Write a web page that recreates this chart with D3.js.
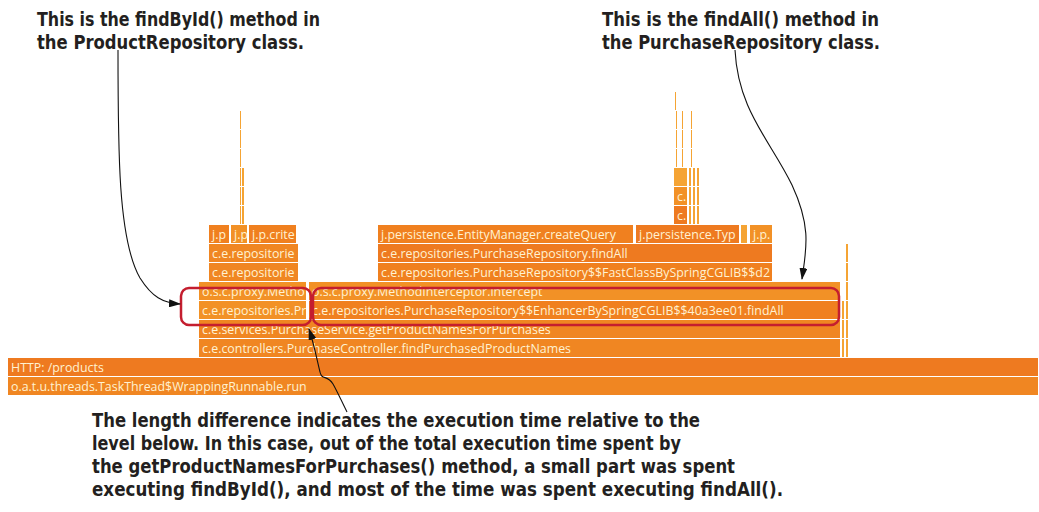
<!DOCTYPE html>
<html>
<head>
<meta charset="utf-8">
<script src="https://cdn.jsdelivr.net/npm/d3@7"></script>
<style>
body { margin: 0; background: #fff; }
svg { display: block; }
</style>
</head>
<body>
<svg id="chart" width="1039" height="512"></svg>
<script>
// flame graph frames (samples); an empty name = frame too thin to be labelled
var frameNames = [
	"o.a.t.u.threads.TaskThread$WrappingRunnable.run",
	"HTTP: /products",
	"c.e.controllers.PurchaseController.findPurchasedProductNames",
	"c.e.services.PurchaseService.getProductNamesForPurchases",
	"c.e.repositories.ProductRepository$$EnhancerBySpringCGLIB$$3f9c1a2b.findById",
	"c.e.repositories.PurchaseRepository$$EnhancerBySpringCGLIB$$40a3ee01.findAll",
	"o.s.c.proxy.MethodInterceptor.intercept",
	"o.s.c.proxy.MethodInterceptor.intercept",
	"c.e.repositories.ProductRepository$$FastClassBySpringCGLIB$$8d1e4c7a.invoke",
	"c.e.repositories.PurchaseRepository$$FastClassBySpringCGLIB$$d2b7e9f0.invoke",
	"c.e.repositories.ProductRepository.findById",
	"c.e.repositories.PurchaseRepository.findAll",
	"j.persistence.EntityManager.createQuery",
	"j.persistence.TypedQuery.getSingleResult",
	"j.p.criteria.CriteriaBuilder.createQuery",
	"j.persistence.EntityManager.createQuery",
	"j.persistence.TypedQuery.getResultList",
	"",
	"j.p.criteria.CriteriaQuery.select",
	"c.z.hikari.pool.HikariProxyConnection.prepareStatement",
	"c.z.hikari.pool.ProxyConnection.prepareStatement",
	"",
	"", "", "", "", "", "",
	"", "", "",
	"", "", "", "", "", "", "", "", "",
	"", "", "", "", "", "", "", "", "", "",
	"", "", "", "", "", "", "", "", ""
];
var frameDepths = [
	0, 1, 2, 3, 4, 4, 5, 5, 6, 6, 7, 7, 8, 8, 8, 8, 8, 8, 8,
	9, 10, 11,
	9, 10, 11, 12, 13, 14,
	9, 10, 11,
	9, 10, 11, 9, 10, 11, 9, 10, 11,
	12, 13, 14, 12, 13, 14, 12, 13, 14, 15,
	2, 3, 4, 2, 3, 4, 5, 6, 7
];
var frameStarts = [
	0, 0, 191, 191, 191, 301, 191, 301, 201, 370, 201, 370, 201, 223, 241, 370, 628, 733, 742,
	666, 666, 666,
	232, 232, 232, 232, 232, 232,
	234, 234, 234,
	681, 681, 681, 685, 685, 685, 689, 689, 689,
	668, 668, 668, 674, 674, 674, 683, 683, 683, 667,
	834, 834, 834, 838, 838, 838, 838, 838, 838
];
var frameWidths = [
	1031, 1031, 642, 642, 108, 532, 108, 532, 90, 395, 90, 395, 21, 17, 48, 256, 104, 7, 23,
	14, 14, 14,
	2, 2, 2, 2, 2, 2,
	3, 3, 3,
	3, 3, 3, 3, 3, 3, 3, 3, 3,
	2, 2, 2, 2, 2, 2, 2, 2, 2, 2,
	3, 3, 3, 3, 3, 3, 3, 3, 3
];
var totalSamples = 1031;
var maxDepth = 16;

// annotation texts
var topLeftNote = ["This is the findById() method in", "the ProductRepository class."];
var topRightNote = ["This is the findAll() method in", "the PurchaseRepository class."];
var bottomNote = [
	"The length difference indicates the execution time relative to the",
	"level below. In this case, out of the total execution time spent by",
	"the getProductNamesForPurchases() method, a small part was spent",
	"executing findById(), and most of the time was spent executing findAll()."
];

var svg = d3.select("#chart");

var x = d3.scaleLinear().domain([0, totalSamples]).range([8, 1039]);
var y = d3.scaleLinear().domain([0, maxDepth]).range([396, 92]);

var frames = frameNames.map(function(n, i) {
	return {name: n, depth: frameDepths[i], start: frameStarts[i], width: frameWidths[i], id: i};
});

var palette = ["#ee7a20", "#f08622", "#f29126", "#f0801f"];
function colorOf(f) {
	if (f.name === "") return "#f5a434";
	var h = 0, s = f.name + f.depth;
	for (var i = 0; i < s.length; i++) h = (h * 31 + s.charCodeAt(i)) >>> 0;
	return palette[h % palette.length];
}

var defs = svg.append("defs");

var g = svg.append("g").attr("class", "flame");
var cell = g.selectAll("g.frame")
	.data(frames)
	.enter().append("g")
	.attr("class", "frame");

cell.append("rect")
	.attr("x", function(d) { return x(d.start); })
	.attr("y", function(d) { return y(d.depth + 1); })
	.attr("width", function(d) { return Math.max(1, x(d.start + d.width) - x(d.start) - 1); })
	.attr("height", function(d) { return y(d.depth) - y(d.depth + 1) - 1; })
	.style("fill", colorOf);

// labels cut to the frame width
cell.filter(function(d) { return d.name !== ""; }).each(function(d) {
	var avail = x(d.start + d.width) - x(d.start) - 3;
	var t = d3.select(this).append("text")
		.attr("x", x(d.start) + 3)
		.attr("y", y(d.depth) - 5)
		.style("font-family", "'Open Sans', sans-serif")
		.style("font-size", "12.4px")
		.style("fill", "#fff2d2");
	var s = d.name;
	t.text(s);
	while (s.length > 0 && t.node().getComputedTextLength() > avail) {
		s = s.slice(0, -1);
		t.text(s);
	}
	if (s.length === 0) t.remove();
});

// red highlight boxes around findById / findAll
var hlLeft = frames[4];
var hlRight = frames[5];
var hl = svg.append("g").attr("class", "highlight");
hl.append("rect")
	.attr("x", x(hlLeft.start) - 18).attr("y", y(hlLeft.depth + 2) + 6)
	.attr("width", x(hlLeft.start + hlLeft.width) - x(hlLeft.start) + 22)
	.attr("height", 37).attr("rx", 8)
	.style("fill", "none").style("stroke", "#c41e2f").style("stroke-width", 2.5);
hl.append("rect")
	.attr("x", x(hlRight.start) + 4).attr("y", y(hlRight.depth + 2) + 6)
	.attr("width", x(hlRight.start + hlRight.width) - x(hlRight.start) - 6)
	.attr("height", 37).attr("rx", 8)
	.style("fill", "none").style("stroke", "#c41e2f").style("stroke-width", 2.5);

// arrows
defs.append("marker")
	.attr("id", "head")
	.attr("viewBox", "0 0 12 8")
	.attr("refX", 11).attr("refY", 4)
	.attr("markerWidth", 12).attr("markerHeight", 8)
	.attr("markerUnits", "userSpaceOnUse")
	.attr("orient", "auto")
	.append("path").attr("d", "M0,0 L12,4 L0,8 Z").style("fill", "#111");

var arrows = [
	"M118,50 C118,150 118,240 140,278 C152,297 163,303 180,304",
	"M735,50 C738,110 770,140 792,185 C812,228 806,250 802,279",
	"M347,412 C341,400 337,391 333,384 C327,374 322,381 320,372 C317,360 314,344 309,329"
];
svg.append("g").selectAll("path")
	.data(arrows)
	.enter().append("path")
	.attr("d", function(d) { return d; })
	.attr("marker-end", "url(#head)")
	.style("fill", "none").style("stroke", "#111").style("stroke-width", 1.1);

// annotation text
function note(lines, x0, y0, widths) {
	var t = svg.append("g");
	lines.forEach(function(line, i) {
		t.append("text")
			.attr("x", x0)
			.attr("y", y0 + i * 23)
			.attr("textLength", widths[i])
			.attr("lengthAdjust", "spacingAndGlyphs")
			.style("font-family", "'Liberation Sans Narrow', 'DejaVu Sans Condensed', sans-serif")
			.style("font-weight", "bold")
			.style("font-size", "20px")
			.style("fill", "#231f20")
			.text(line);
	});
}
note(topLeftNote, 37, 26, [283, 267]);
note(topRightNote, 602, 26, [277, 278]);
note(bottomNote, 92, 427, [608, 589, 643, 691]);
</script>
</body>
</html>
